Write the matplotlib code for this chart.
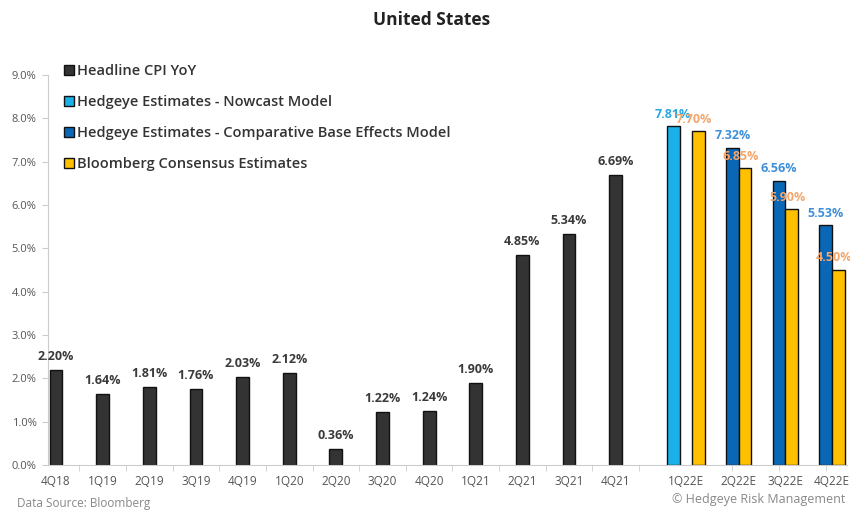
"""United States CPI YoY with Hedgeye / Bloomberg estimates."""

import matplotlib
matplotlib.use("Agg")
import matplotlib.pyplot as plt
import numpy as np
from matplotlib.patches import Patch

plt.rcParams["font.family"] = ["Open Sans", "DejaVu Sans"]

# actuals
hist_quarters = ["4Q18", "1Q19", "2Q19", "3Q19", "4Q19", "1Q20", "2Q20",
                 "3Q20", "4Q20", "1Q21", "2Q21", "3Q21", "4Q21"]
headline_cpi = [2.20, 1.64, 1.81, 1.76, 2.03, 2.12, 0.36,
                1.22, 1.24, 1.90, 4.85, 5.34, 6.69]

# estimates (None = not shown)
est_quarters = ["1Q22E", "2Q22E", "3Q22E", "4Q22E"]
nowcast = [7.81, None, None, None]
base_effects = [None, 7.32, 6.56, 5.53]
bloomberg = [7.70, 6.85, 5.90, 4.50]

C_HEAD = "#333333"
C_NOW = "#1ab0e8"
C_BASE = "#0a67b5"
C_BBG = "#ffc000"
LBL_NOW = "#2aa7e0"
LBL_BASE = "#3f8fd8"
LBL_BBG = "#f5a66a"

fig = plt.figure(figsize=(8.5, 5.14), dpi=100)
ax = fig.add_axes([0.056, 0.0953, 0.94, 0.759])

x_hist = np.arange(len(hist_quarters))
# estimate groups sit half a slot further right, three slots per group
x_est = len(hist_quarters) + 0.5 + np.arange(len(est_quarters))
w = 0.275
slot = 0.27

bars = ax.bar(x_hist, headline_cpi, width=w, color=C_HEAD,
              edgecolor="#111111", linewidth=1.0)
for b, v in zip(bars, headline_cpi):
    ax.annotate(f"{v:.2f}%", (b.get_x() + b.get_width() / 2, v),
                xytext=(0, 5), textcoords="offset points", ha="center",
                va="bottom", fontsize=9, fontweight="bold", color="#3a3a3a")

series = [(nowcast, -slot, C_NOW, LBL_NOW, 0),
          (base_effects, 0.0, C_BASE, LBL_BASE, 0),
          (bloomberg, slot, C_BBG, LBL_BBG, -3)]
tick_est = []
for i, xc in enumerate(x_est):
    present = []
    for vals, off, col, lcol, dx in series:
        v = vals[i]
        if v is None:
            continue
        ax.bar(xc + off, v, width=w, color=col, edgecolor="#111111",
               linewidth=1.0, zorder=2)
        present.append(xc + off)
        ax.annotate(f"{v:.2f}%", (xc + off, v), xytext=(dx, 4),
                    textcoords="offset points", ha="center", va="bottom",
                    fontsize=9, fontweight="bold", color=lcol, zorder=3)
    tick_est.append(np.mean(present))

ax.set_xticks(list(x_hist) + tick_est)
ax.set_xticklabels(hist_quarters + est_quarters, fontsize=8.5, color="#555555")
ax.set_xticks(np.arange(-0.5, len(hist_quarters) + 4, 1.0), minor=True)
ax.tick_params(axis="x", which="major", length=0, pad=7)
ax.tick_params(axis="x", which="minor", length=4, color="#cccccc")

ax.set_ylim(0, 9)
ax.set_xlim(-0.18, 16.95)
ax.set_yticks(np.arange(0, 9.5, 1.0))
ax.set_yticklabels([f"{t:.1f}%" for t in np.arange(0, 9.5, 1.0)],
                   fontsize=8, color="#555555")
ax.tick_params(axis="y", length=4, color="#cccccc", pad=4)

for side in ["top", "right"]:
    ax.spines[side].set_visible(False)
for side in ["left", "bottom"]:
    ax.spines[side].set_color("#cccccc")

handles = [Patch(facecolor=c, edgecolor="#111111", linewidth=1.0)
           for c in (C_HEAD, C_NOW, C_BASE, C_BBG)]
labels = ["Headline CPI YoY", "Hedgeye Estimates - Nowcast Model",
          "Hedgeye Estimates - Comparative Base Effects Model",
          "Bloomberg Consensus Estimates"]
leg = fig.legend(handles, labels, loc="upper left",
                 bbox_to_anchor=(0.068, 0.886), frameon=False,
                 prop={"size": 10.5, "weight": "semibold"}, labelspacing=1.15,
                 handlelength=0.7, handleheight=0.7, handletextpad=0.25,
                 borderaxespad=0, labelcolor="#333333")

fig.text(0.508, 0.962, "United States", ha="center", va="center",
         fontsize=12.5, fontweight="bold", color="#222222")
fig.text(0.02, 0.008, "Data Source: Bloomberg", ha="left", va="bottom",
         fontsize=8.5, color="#888888")
fig.text(0.995, 0.016, "\u00a9 Hedgeye Risk Management", ha="right",
         va="bottom", fontsize=9, color="#888888")

fig.savefig("out.png", dpi=100)
plt.close(fig)
